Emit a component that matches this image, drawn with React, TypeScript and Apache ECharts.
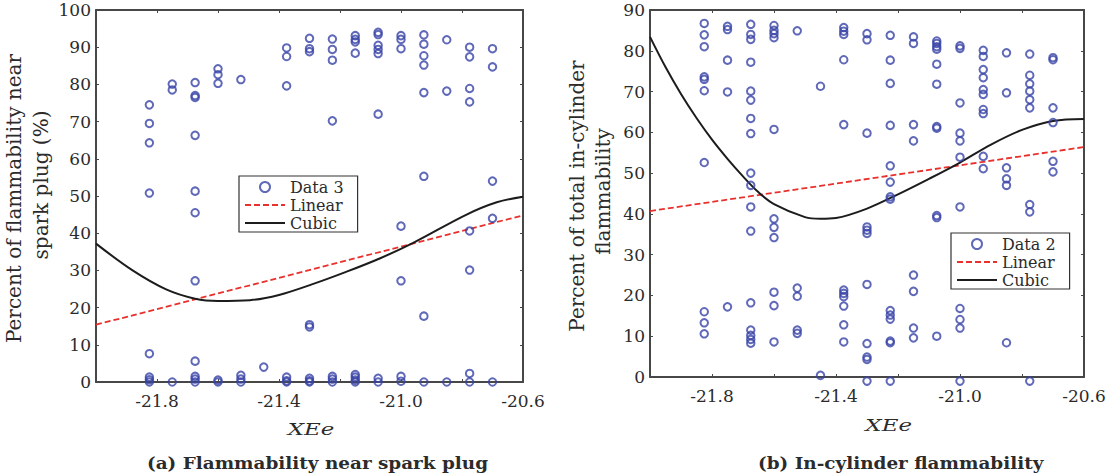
import React, { useEffect, useRef } from 'react';
import * as echarts from 'echarts';

// Shared XEe positions of the sample columns (both panels)
const xColumns = [-21.825, -21.75, -21.675, -21.6, -21.525, -21.45, -21.375, -21.3, -21.225, -21.15, -21.075, -21.0, -20.925, -20.85, -20.775, -20.7];

// (a) flammability near spark plug, % — one list per column
const sparkPlugValues: number[][] = [
  [74.5, 69.5, 64.3, 50.8, 7.6, 1.3, 0.6, 0],
  [80.1, 78.5, 0],
  [80.5, 77.0, 76.5, 66.3, 51.3, 45.5, 27.2, 5.6, 1.5, 0.8, 0],
  [84.2, 82.6, 80.3, 0.5, 0],
  [81.3, 1.8, 0.8, 0],
  [4.0],
  [89.8, 87.5, 79.6, 1.3, 0.3, 0],
  [92.4, 89.6, 88.8, 15.4, 14.8, 1.0, 0.3, 0],
  [92.2, 89.4, 86.5, 70.2, 1.5, 0.8, 0],
  [93.1, 92.1, 91.4, 88.4, 2.0, 1.3, 0.5, 0],
  [94.0, 93.4, 90.5, 89.4, 88.3, 72.0, 1.0, 0],
  [93.1, 92.1, 89.6, 41.9, 27.2, 1.5, 0.2],
  [93.3, 90.8, 87.7, 85.2, 77.8, 55.3, 17.7, 0],
  [92.0, 78.2, 0],
  [90.0, 87.4, 78.9, 75.3, 40.6, 30.1, 2.3, 0],
  [89.6, 84.7, 54.0, 44.0, 0],
];

// (b) total in-cylinder flammability, % — one list per column
const inCylinderValues: number[][] = [
  [86.7, 83.9, 81.0, 73.6, 73.0, 70.2, 52.6, 16.0, 13.3, 10.6],
  [86.0, 85.2, 77.7, 69.9, 17.2],
  [86.5, 84.0, 82.8, 77.2, 70.1, 67.9, 63.4, 59.7, 50.0, 47.0, 41.7, 35.8, 18.2, 11.5, 10.2, 9.2, 8.3],
  [86.2, 85.0, 84.2, 83.2, 60.7, 38.8, 36.7, 34.2, 20.8, 17.5, 8.6],
  [84.9, 21.8, 19.8, 11.5, 10.7],
  [71.3, 0.4],
  [85.7, 84.8, 84.0, 77.8, 61.9, 21.3, 20.5, 19.7, 17.4, 12.8, 8.6],
  [84.2, 82.7, 59.8, 36.8, 36.0, 35.2, 22.7, 8.2, 4.9, 4.3, -1],
  [83.8, 77.7, 72.0, 61.7, 51.8, 47.8, 44.2, 43.6, 16.3, 15.2, 14.2, 8.8, 8.4, -1],
  [83.4, 81.8, 61.9, 57.9, 25.0, 21.0, 12.0, 9.6],
  [82.4, 81.8, 81.0, 80.4, 76.7, 71.8, 61.4, 61.0, 39.6, 39.1, 10.0],
  [81.2, 80.6, 67.2, 59.8, 57.9, 53.9, 41.7, 16.8, 14.1, 12.0, -1],
  [80.1, 78.6, 75.4, 73.4, 70.5, 69.3, 65.6, 64.6, 54.1, 51.1],
  [79.5, 69.7, 51.3, 48.6, 47.0, 8.4],
  [79.2, 74.0, 71.9, 70.1, 68.0, 66.0, 42.3, 40.5, -1],
  [78.3, 77.8, 66.0, 62.4, 52.9, 50.3],
];

// Fitted curves, sampled along XEe
const sparkLinearX = [-22.0, -20.6];
const sparkLinearY = [15.4, 44.8];
const sparkCubicX = [-22.0, -21.88, -21.77, -21.675, -21.6, -21.495, -21.4, -21.29, -21.18, -21.07, -20.96, -20.785, -20.686, -20.6];
const sparkCubicY = [37.2, 30.0, 24.9, 22.4, 21.8, 22.0, 23.4, 26.3, 29.6, 33.2, 37.4, 45.0, 48.3, 49.8];

const cylLinearX = [-22.0, -20.6];
const cylLinearY = [40.7, 56.4];
const cylCubicX = [-22.0, -21.95, -21.9, -21.85, -21.8, -21.75, -21.7, -21.65, -21.6, -21.5, -21.45, -21.4, -21.3, -21.2, -21.1, -21.0, -20.9, -20.8, -20.7, -20.6];
const cylCubicY = [83.4, 76.0, 69.4, 63.5, 58.2, 53.5, 49.2, 45.3, 42.4, 39.2, 38.8, 39.0, 41.3, 44.8, 48.6, 52.6, 57.0, 60.6, 62.8, 63.3];

const xTickLabels = ['-21.8', '-21.4', '-21.0', '-20.6'];

const FONT = '"DejaVu Serif", "Liberation Serif", serif';
const TEXT = '#2b2b2b';
const AXIS = '#474747';
const BLUE = '#3843a6';
const RED = '#e8312d';
const BLACK = '#1c1c1c';

const pairs = (xs: number[], ys: number[]) => xs.map((x, i) => [x, ys[i]]);
const columnPoints = (cols: number[][]) =>
  cols.flatMap((vals, i) => vals.map((v) => [xColumns[i], v]));

function xAxisPair(gridIndex: number) {
  const base = {
    type: 'value',
    gridIndex,
    min: -22,
    max: -20.6,
    interval: 0.2,
    splitLine: { show: false },
    axisLine: { show: true, onZero: false, lineStyle: { color: AXIS, width: 2 } },
    axisTick: { show: true, inside: true, length: 3, lineStyle: { color: AXIS, width: 1 } },
  };
  return [
    {
      ...base,
      position: 'bottom',
      axisLabel: {
        show: true,
        margin: 10,
        fontFamily: FONT,
        fontSize: 17,
        color: TEXT,
        formatter: (v: number) => {
          const s = v.toFixed(1);
          return xTickLabels.includes(s) ? s : '';
        },
      },
    },
    { ...base, position: 'top', axisLabel: { show: false } },
  ];
}

function yAxisPair(gridIndex: number, max: number) {
  const base = {
    type: 'value',
    gridIndex,
    min: 0,
    max,
    interval: 10,
    splitLine: { show: false },
    axisLine: { show: true, onZero: false, lineStyle: { color: AXIS, width: 2 } },
    axisTick: { show: true, inside: true, length: 3, lineStyle: { color: AXIS, width: 1 } },
  };
  return [
    {
      ...base,
      position: 'left',
      axisLabel: { show: true, margin: 5, fontFamily: FONT, fontSize: 17, color: TEXT },
    },
    { ...base, position: 'right', axisLabel: { show: false } },
  ];
}

function panelSeries(axisIndex: number, dataName: string, cols: number[][], linX: number[], linY: number[], cubX: number[], cubY: number[]) {
  return [
    {
      name: dataName,
      type: 'scatter',
      xAxisIndex: axisIndex,
      yAxisIndex: axisIndex,
      symbol: 'circle',
      symbolSize: 7.5,
      clip: false,
      z: 3,
      itemStyle: { color: 'rgba(0,0,0,0)', borderColor: BLUE, borderWidth: 2 },
      data: columnPoints(cols),
    },
    {
      name: 'Linear',
      type: 'line',
      xAxisIndex: axisIndex,
      yAxisIndex: axisIndex,
      symbol: 'none',
      z: 2,
      lineStyle: { color: RED, width: 1.8, type: [6, 3] },
      itemStyle: { color: RED },
      data: pairs(linX, linY),
    },
    {
      name: 'Cubic',
      type: 'line',
      xAxisIndex: axisIndex,
      yAxisIndex: axisIndex,
      symbol: 'none',
      smooth: 0.35,
      z: 2,
      lineStyle: { color: BLACK, width: 2 },
      itemStyle: { color: BLACK },
      data: pairs(cubX, cubY),
    },
  ];
}

// Line entries in the legend show only their stroke, no marker dot
const plainLine = { color: 'rgba(0,0,0,0)', borderWidth: 0 };

function legendBox(left: number, top: number, dataName: string) {
  return {
    show: true,
    orient: 'vertical',
    left,
    top,
    data: [
      { name: dataName },
      { name: 'Linear', itemStyle: plainLine },
      { name: 'Cubic', itemStyle: plainLine },
    ],
    selectedMode: false,
    backgroundColor: '#fff',
    borderColor: '#333',
    borderWidth: 1.2,
    borderRadius: 0,
    padding: [3, 14, 1, 5],
    itemGap: 2,
    itemWidth: 40,
    itemHeight: 10,
    textStyle: { fontFamily: FONT, fontSize: 16, color: TEXT },
  };
}

function label(text: string, x: number, y: number, opts: Record<string, unknown> = {}) {
  const { rotation, scaleX, fontSize, fontWeight, fontStyle } = opts as any;
  return {
    type: 'text',
    x,
    y,
    rotation: rotation ?? 0,
    scaleX: scaleX ?? 1,
    silent: true,
    style: {
      text,
      fill: TEXT,
      fontFamily: FONT,
      fontSize: fontSize ?? 20,
      fontWeight: fontWeight ?? 'normal',
      fontStyle: fontStyle ?? 'normal',
      align: 'center',
      verticalAlign: 'middle',
    },
  };
}

function buildOption() {
  const [xa0, xa1] = xAxisPair(0);
  const [xb0, xb1] = xAxisPair(1);
  const [ya0, ya1] = yAxisPair(0, 100);
  const [yb0, yb1] = yAxisPair(1, 90);
  return {
    animation: false,
    backgroundColor: '#fff',
    grid: [
      { left: 96, top: 10, width: 427, height: 372 },
      { left: 650, top: 10, width: 434, height: 367 },
    ],
    xAxis: [xa0, xa1, xb0, xb1],
    yAxis: [ya0, ya1, yb0, yb1],
    legend: [legendBox(239, 176, 'Data 3'), legendBox(951, 233, 'Data 2')],
    series: [
      ...panelSeries(0, 'Data 3', sparkPlugValues, sparkLinearX, sparkLinearY, sparkCubicX, sparkCubicY),
      ...panelSeries(2, 'Data 2', inCylinderValues, cylLinearX, cylLinearY, cylCubicX, cylCubicY),
    ],
    graphic: [
      label('Percent of flammability near', 14, 198.5, { rotation: Math.PI / 2 }),
      label('spark plug (%)', 41, 185, { rotation: Math.PI / 2 }),
      label('Percent of total in-cylinder', 577, 196, { rotation: Math.PI / 2 }),
      label('flammability', 603, 191.5, { rotation: Math.PI / 2 }),
      label('XEe', 311, 429, { fontSize: 17, fontStyle: 'italic', scaleX: 1.35 }),
      label('XEe', 888.7, 425, { fontSize: 17, fontStyle: 'italic', scaleX: 1.35 }),
      label('(a) Flammability near spark plug', 317.5, 463.5, { fontSize: 16, fontWeight: 'bold', scaleX: 1.15 }),
      label('(b) In-cylinder flammability', 900.7, 463, { fontSize: 16, fontWeight: 'bold', scaleX: 1.15 }),
    ],
  };
}

export default function App() {
  const ref = useRef<HTMLDivElement>(null);
  useEffect(() => {
    if (!ref.current) return;
    const chart = echarts.init(ref.current, null, { renderer: 'svg' });
    chart.setOption(buildOption() as any);
    return () => chart.dispose();
  }, []);
  return (
    <div
      ref={ref}
      style={{ position: 'fixed', left: 0, top: 0, width: 1112, height: 473, background: '#fff' }}
    />
  );
}
